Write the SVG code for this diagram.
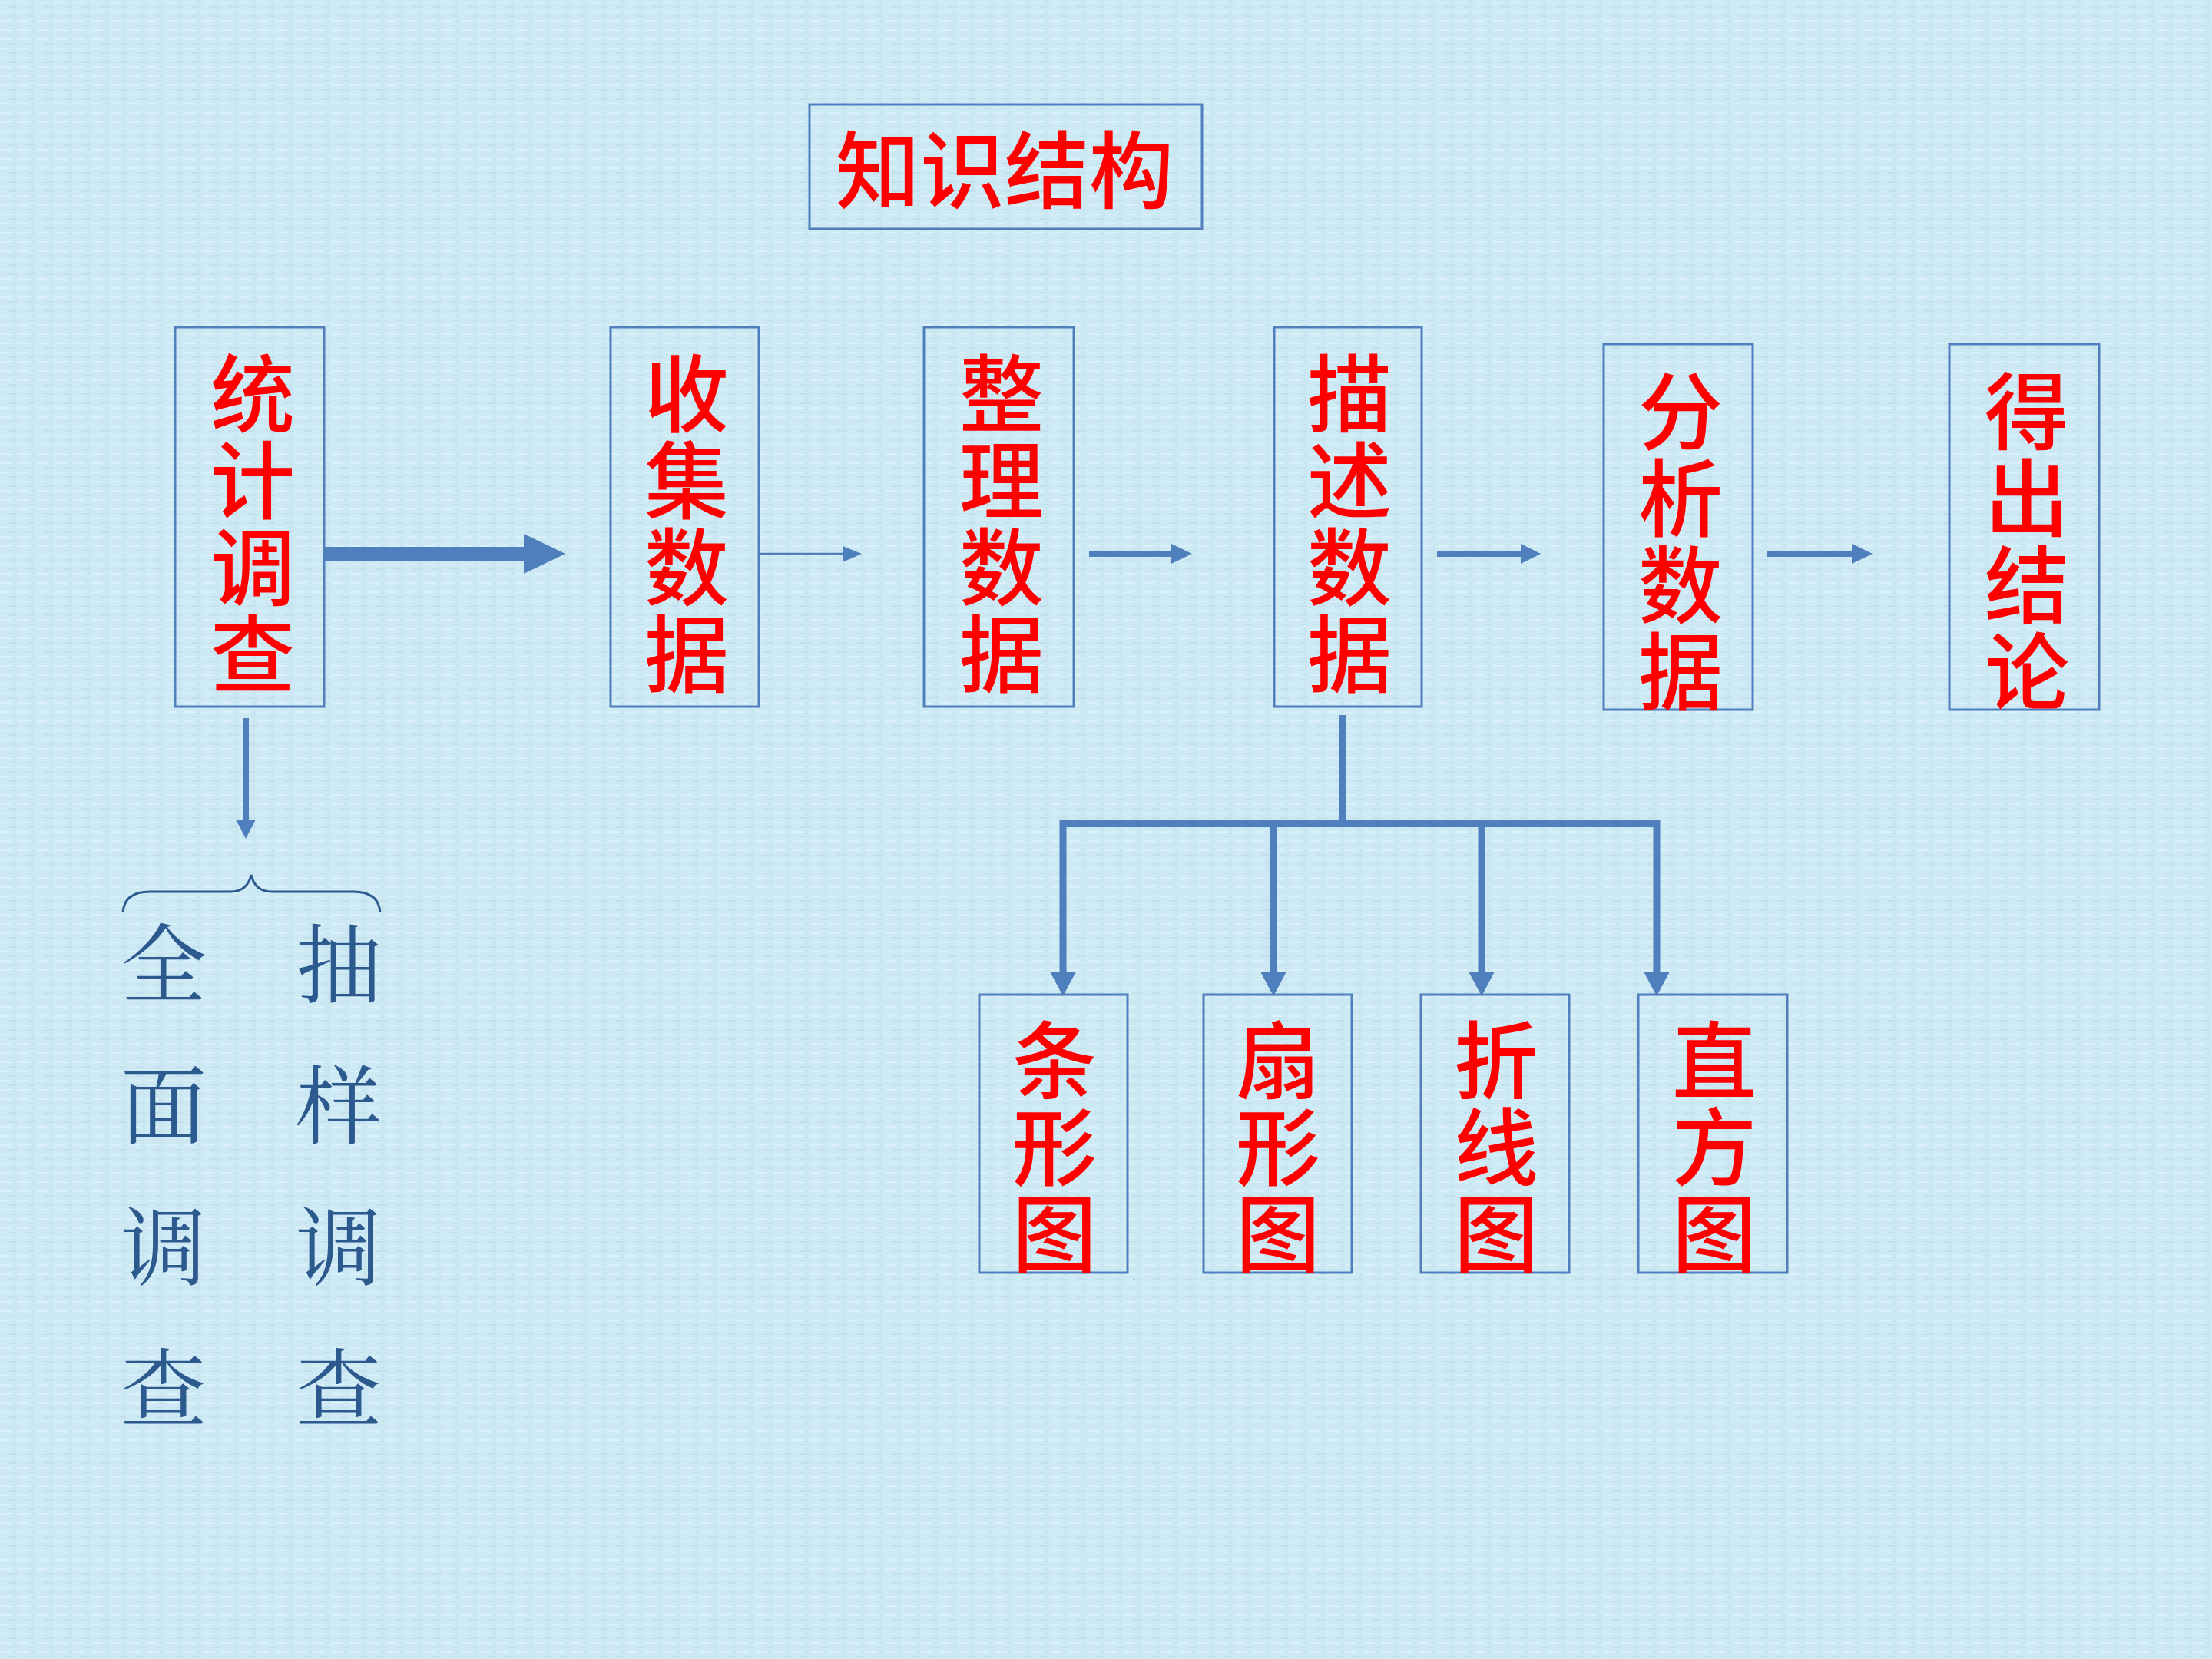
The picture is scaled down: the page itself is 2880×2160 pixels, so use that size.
<svg xmlns="http://www.w3.org/2000/svg" width="2880" height="2160" viewBox="0 0 2880 2160">
<style>
.box{fill:none;stroke:#4f7fbd;stroke-width:3}
.ttl{font-family:"Noto Sans CJK SC","Noto Sans CJK TC",sans-serif;font-weight:500;font-size:110px;fill:#ff0000;text-anchor:middle;dominant-baseline:central}
.red{font-family:"Noto Sans CJK SC","Noto Sans CJK TC",sans-serif;font-weight:500;font-size:110px;fill:#ff0000;writing-mode:vertical-rl;text-anchor:start;letter-spacing:3px}
.blue{font-family:"Noto Serif CJK SC","Noto Sans CJK SC",serif;font-weight:400;font-size:112px;fill:#2d5a8e;writing-mode:vertical-rl;text-anchor:start;letter-spacing:72px}
.ln{stroke:#4f7fbd;fill:none}
.hd{fill:#4f7fbd}
</style>
<defs>
<pattern id="tex" width="24" height="12" patternUnits="userSpaceOnUse">
<rect width="24" height="12" fill="#cde9f4"/>
<rect x="0" y="2" width="14" height="2" fill="#e2f4fb" opacity="0.7"/>
<rect x="10" y="8" width="12" height="2" fill="#bddbe8" opacity="0.6"/>
<rect x="18" y="0" width="2" height="7" fill="#c2e0ec" opacity="0.5"/>
</pattern>
</defs>
<rect width="2880" height="2160" fill="url(#tex)"/>

<g id="title">
<rect class="box" x="1054" y="136" width="511" height="162"/>
<text class="ttl" x="1308" y="215">知识结构</text>
</g>

<g id="n1">
<rect class="box" x="228" y="426" width="194" height="494"/>
<text class="red" x="329" y="457">统计调查</text>
</g>
<g id="n2">
<rect class="box" x="795" y="426" width="193" height="494"/>
<text class="red" x="894" y="457">收集数据</text>
</g>
<g id="n3">
<rect class="box" x="1203" y="426" width="195" height="494"/>
<text class="red" x="1304" y="457">整理数据</text>
</g>
<g id="n4">
<rect class="box" x="1659" y="426" width="192" height="494"/>
<text class="red" x="1757" y="457">描述数据</text>
</g>
<g id="n5">
<rect class="box" x="2088" y="448" width="194" height="476"/>
<text class="red" x="2188" y="480">分析数据</text>
</g>
<g id="n6">
<rect class="box" x="2538" y="448" width="195" height="476"/>
<text class="red" x="2639" y="480">得出结论</text>
</g>

<g id="b1">
<rect class="box" x="1275" y="1295" width="193" height="362"/>
<text class="red" x="1373" y="1325">条形图</text>
</g>
<g id="b2">
<rect class="box" x="1567" y="1295" width="193" height="362"/>
<text class="red" x="1664" y="1325">扇形图</text>
</g>
<g id="b3">
<rect class="box" x="1850" y="1295" width="193" height="362"/>
<text class="red" x="1948" y="1325">折线图</text>
</g>
<g id="b4">
<rect class="box" x="2133" y="1295" width="194" height="362"/>
<text class="red" x="2232" y="1325">直方图</text>
</g>

<g id="survey">
<path d="M160,1188 Q162,1161 195,1161 L300,1161 Q322,1161 327,1139 Q332,1161 354,1161 L460,1161 Q493,1161 495,1188" fill="none" stroke="#2d5a8e" stroke-width="3"/>
<text class="blue" x="213" y="1198">全面调查</text>
<text class="blue" x="441" y="1198">抽样调查</text>
</g>

<g id="connectors">
<line class="ln" x1="422" y1="721" x2="686" y2="721" stroke-width="18"/>
<polygon class="hd" points="682,695 736,721 682,747"/>
<line class="ln" x1="988" y1="721" x2="1100" y2="721" stroke-width="2.5"/>
<polygon class="hd" points="1097,711 1122,721 1097,732"/>
<line class="ln" x1="1418" y1="721" x2="1528" y2="721" stroke-width="8"/>
<polygon class="hd" points="1525,708 1552,721 1525,734"/>
<line class="ln" x1="1871" y1="721" x2="1983" y2="721" stroke-width="8"/>
<polygon class="hd" points="1980,708 2006,721 1980,734"/>
<line class="ln" x1="2301" y1="721" x2="2414" y2="721" stroke-width="8"/>
<polygon class="hd" points="2411,708 2438,721 2411,734"/>
<line class="ln" x1="320" y1="935" x2="320" y2="1070" stroke-width="8"/>
<polygon class="hd" points="307,1067 333,1067 320,1092"/>
<line class="ln" x1="1748" y1="931" x2="1748" y2="1072" stroke-width="10"/>
<line class="ln" x1="1384" y1="1072" x2="2157" y2="1072" stroke-width="10"/>
<line class="ln" x1="1384" y1="1067" x2="1384" y2="1268" stroke-width="9"/>
<polygon class="hd" points="1367,1265 1401,1265 1384,1297"/>
<line class="ln" x1="1658" y1="1067" x2="1658" y2="1268" stroke-width="9"/>
<polygon class="hd" points="1641,1265 1675,1265 1658,1297"/>
<line class="ln" x1="1929" y1="1067" x2="1929" y2="1268" stroke-width="9"/>
<polygon class="hd" points="1912,1265 1946,1265 1929,1297"/>
<line class="ln" x1="2157" y1="1067" x2="2157" y2="1268" stroke-width="9"/>
<polygon class="hd" points="2140,1265 2174,1265 2157,1297"/>
</g>
</svg>
